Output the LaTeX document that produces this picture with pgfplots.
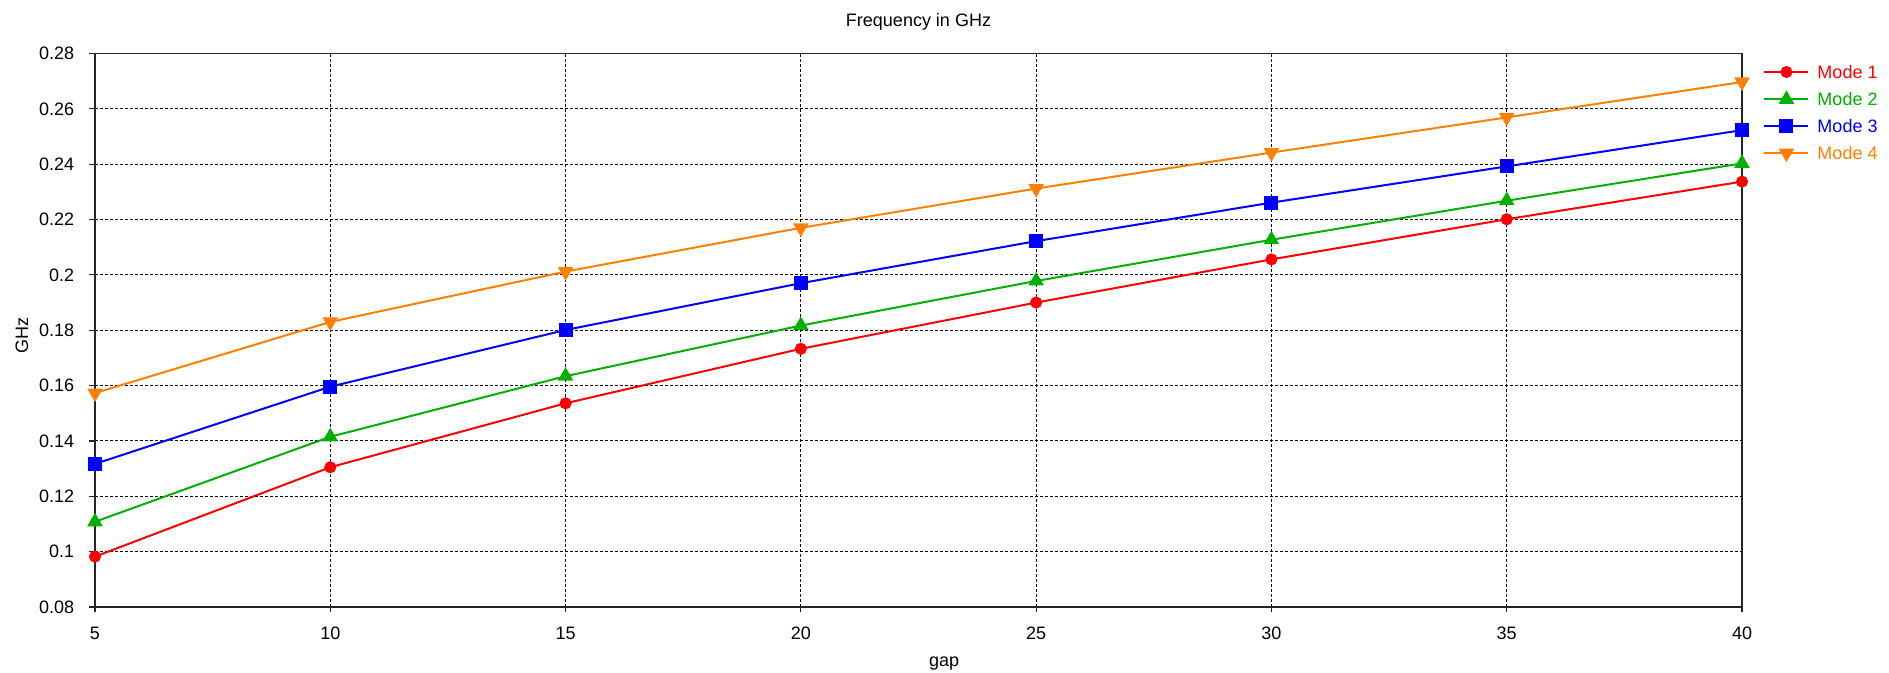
\documentclass[border=0pt]{standalone}
\usepackage{fontspec}
\setmainfont{Liberation Sans}
\usepackage{pgfplots}
\pgfplotsset{compat=1.18}
\definecolor{cRed}{RGB}{255,0,0}
\definecolor{cGreen}{RGB}{0,176,0}
\definecolor{cBlue}{RGB}{0,0,255}
\definecolor{cOrange}{RGB}{255,128,0}
\newcommand\f{\fontsize{9}{10.8}\selectfont}
\begin{document}
\begin{tikzpicture}
\begin{axis}[
  at={(0,0)}, anchor=south west,
  scale only axis, width=823.5pt, height=276.75pt,
  xmin=5, xmax=40, ymin=0.08, ymax=0.28,
  clip=false,
  xtick={5,10,15,20,25,30,35,40},
  ytick={0.08,0.10,0.12,0.14,0.16,0.18,0.20,0.22,0.24,0.26,0.28},
  yticklabels={0.08,0.1,0.12,0.14,0.16,0.18,0.2,0.22,0.24,0.26,0.28},
  /pgf/number format/assume math mode=true,
  tick align=outside, tick pos=left,
  major tick length=2.75pt,
  tick style={black!85, line width=0.6pt},
  axis line style={black!85, line width=0.7pt},
  grid=major,
  major grid style={black, line width=0.5pt, dash pattern=on 1.5pt off 1pt},
  xticklabel style={font=\f, anchor=base, inner sep=0pt, yshift=-13.6pt},
  yticklabel style={font=\f, anchor=east, inner sep=0pt, xshift=-7.5pt},
  title={Frequency in GHz},
  title style={at={(axis description cs:0.5,1)}, anchor=base, yshift=7.35pt, font=\f, inner sep=0pt},
  xlabel={gap},
  xlabel style={at={(axis description cs:0.5155,-0.1023)}, anchor=center, font=\f, inner sep=0pt},
  ylabel={GHz},
  ylabel style={at={(axis description cs:-0.0443,0.49)}, rotate=0, anchor=center, font=\f, inner sep=0pt},
  legend style={at={(axis description cs:1.0128,0.979)}, anchor=north west, draw=none, fill=none,
    inner sep=0pt, font=\f, column sep=4pt, row sep=6.95pt,
    nodes={inner sep=0pt, text height=6.5pt, text depth=0pt}},
  legend cell align=left,
  legend image code/.code={\draw[mark repeat=2,mark phase=2] plot coordinates {(0pt,0pt)(11pt,0pt)(22pt,0pt)};},
]
\addplot[cRed, line width=1pt, mark=*, mark size=2.5pt] coordinates {
  (5,0.0982)(10,0.1305)(15,0.1536)(20,0.1733)(25,0.1900)(30,0.2056)(35,0.2201)(40,0.2337)};
\addlegendentry{\textcolor{cRed}{Mode 1}}
\addplot[cGreen, line width=1pt, mark=triangle*, mark size=3.5pt] coordinates {
  (5,0.1108)(10,0.1415)(15,0.1634)(20,0.1817)(25,0.1978)(30,0.2127)(35,0.2268)(40,0.2403)};
\addlegendentry{\textcolor{cGreen}{Mode 2}}
\addplot[cBlue, line width=1pt, mark=square*, mark size=3pt] coordinates {
  (5,0.1317)(10,0.1596)(15,0.1801)(20,0.1970)(25,0.2122)(30,0.2261)(35,0.2392)(40,0.2523)};
\addlegendentry{\textcolor{cBlue}{Mode 3}}
\addplot[cOrange, line width=1pt, mark=triangle*, mark size=3.5pt, mark options={rotate=180}] coordinates {
  (5,0.1573)(10,0.1830)(15,0.2012)(20,0.2170)(25,0.2312)(30,0.2442)(35,0.2569)(40,0.2697)};
\addlegendentry{\textcolor{cOrange}{Mode 4}}
\end{axis}
\pgfresetboundingbox
\path[use as bounding box] (-47.5pt,-33pt) rectangle (897pt,303.5pt);
\end{tikzpicture}
\end{document}
